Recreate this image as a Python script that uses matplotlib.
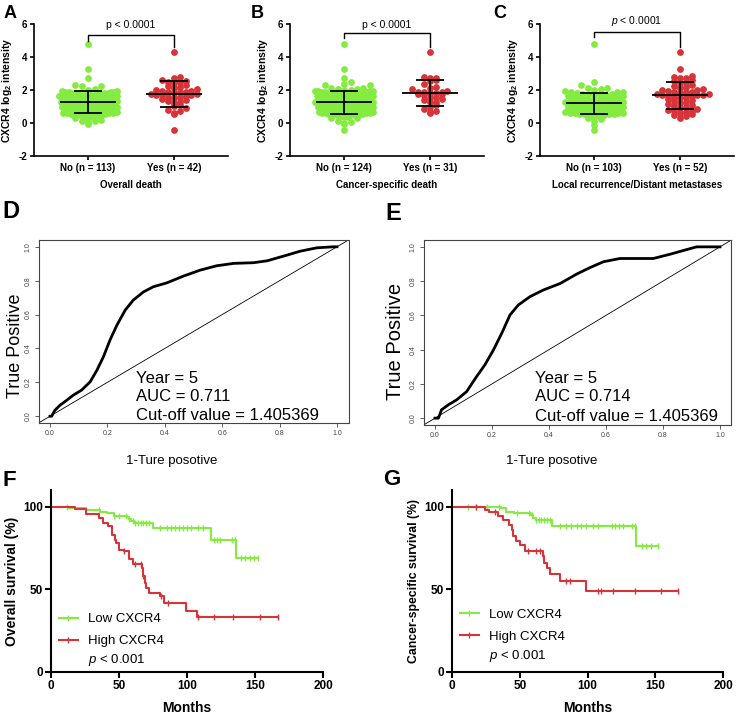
import numpy as np
import matplotlib
matplotlib.use('Agg')
import matplotlib.pyplot as plt
from matplotlib.lines import Line2D

plt.rcParams['font.family'] = ['Liberation Sans', 'DejaVu Sans']
plt.rcParams['mathtext.fontset'] = 'custom'
plt.rcParams['mathtext.rm'] = 'Liberation Sans'
plt.rcParams['mathtext.it'] = 'Liberation Sans:italic'
plt.rcParams['mathtext.bf'] = 'Liberation Sans:bold'
plt.rcParams['axes.unicode_minus'] = False

GREEN = '#84ec40'
RED = '#d63438'

# ---- scatter data (CXCR4 log2 intensity) ----
a_no = [4.80, 3.30, 2.75, 2.28, 2.25, 2.22, 2.05, 2.00,
        1.95, 1.92, 1.90, 1.88, 1.86, 1.84, 1.82, 1.80, 1.78, 1.76, 1.74, 1.72, 1.70, 1.68, 1.66, 1.65, 1.85, 1.75,
        1.62, 1.60, 1.58, 1.56, 1.54, 1.52, 1.50, 1.48, 1.46, 1.44, 1.42, 1.40, 1.38, 1.36, 1.55, 1.45, 1.50, 1.40, 1.60,
        1.33, 1.31, 1.29, 1.27, 1.25, 1.23, 1.21, 1.19, 1.17, 1.15, 1.13, 1.11, 1.09, 1.07, 1.05, 1.20, 1.25, 1.15, 1.30, 1.10,
        1.03, 1.01, 0.99, 0.97, 0.95, 0.93, 0.91, 0.89, 0.87, 0.85, 0.83, 0.81, 0.79, 0.77, 0.90, 0.95, 0.85, 0.80,
        0.73, 0.71, 0.69, 0.67, 0.65, 0.63, 0.61, 0.59, 0.57, 0.55, 0.53, 0.50, 0.48, 0.60,
        0.42, 0.38, 0.36, 0.35, 0.30, 0.20, 0.12, 0.10, 0.05, -0.05,
        1.72, 1.48, 1.18, 0.92, 1.35, 1.05]
a_yes = [4.32, 2.78, 2.75, 2.58, 2.55, 2.50, 2.48, 2.42, 2.30, 2.25, 2.20, 2.10, 2.05, 1.98,
         1.95, 1.92, 1.90, 1.88, 1.85, 1.80, 1.78, 1.75, 1.72, 1.70, 1.68, 1.62, 1.58, 1.55,
         1.50, 1.45, 1.40, 1.35, 1.28, 1.20, 1.10, 1.02, 0.88, 0.80, 0.70, 0.62, 0.55, -0.42]

b_no = [4.80, 3.30, 2.75, 2.50, 2.35, 2.30, 2.28, 2.15, 2.10, 2.08, 2.05, 2.00,
        1.98, 1.96, 1.94, 1.92, 1.90, 1.88, 1.86, 1.84, 1.82, 1.80, 1.78, 1.76, 1.74, 1.72, 1.70, 1.68, 1.66, 1.85, 1.75, 1.95,
        1.64, 1.62, 1.60, 1.58, 1.56, 1.54, 1.52, 1.50, 1.48, 1.46, 1.44, 1.42, 1.40, 1.38, 1.36, 1.34, 1.55, 1.45, 1.50, 1.40, 1.60,
        1.32, 1.30, 1.28, 1.26, 1.24, 1.22, 1.20, 1.18, 1.16, 1.14, 1.12, 1.10, 1.08, 1.06, 1.04, 1.02, 1.25, 1.15, 1.20, 1.10,
        1.00, 0.98, 0.96, 0.94, 0.92, 0.90, 0.88, 0.86, 0.84, 0.82, 0.80, 0.78, 0.76, 0.74, 0.72, 0.95, 0.85, 0.80,
        0.70, 0.68, 0.66, 0.64, 0.62, 0.60, 0.58, 0.56, 0.54, 0.52, 0.50, 0.48, 0.46, 0.60, 0.55, 0.65,
        0.42, 0.38, 0.35, 0.30, 0.28, 0.12, 0.08, 0.02, -0.05, -0.42,
        1.25, 1.05, 0.90, 1.35, 1.65, 0.75, 1.18]
b_yes = [4.32, 2.78, 2.72, 2.70, 2.62, 2.55, 2.35, 2.20, 2.10, 2.05, 1.95, 1.90, 1.88, 1.85, 1.82, 1.80,
         1.78, 1.75, 1.72, 1.60, 1.50, 1.45, 1.40, 1.30, 1.25, 1.10, 0.95, 0.85, 0.72, 0.65, 0.58]

c_no = [4.80, 2.50, 2.30, 2.15, 2.10, 2.05,
        2.00, 1.95, 1.90, 1.88, 1.85, 1.80, 1.78, 1.75, 1.72, 1.70, 1.68,
        1.65, 1.62, 1.60, 1.58, 1.56, 1.54, 1.52, 1.50, 1.48, 1.46, 1.44, 1.42, 1.40, 1.38, 1.36, 1.55, 1.45, 1.50, 1.40,
        1.34, 1.32, 1.30, 1.28, 1.26, 1.24, 1.22, 1.20, 1.18, 1.16, 1.14, 1.12, 1.10, 1.08, 1.06, 1.04, 1.25, 1.15, 1.20, 1.10,
        1.02, 1.00, 0.98, 0.96, 0.94, 0.92, 0.90, 0.88, 0.86, 0.84, 0.82, 0.80, 0.78, 0.76, 0.74, 0.95, 0.85, 0.80,
        0.72, 0.70, 0.68, 0.66, 0.64, 0.62, 0.60, 0.58, 0.56, 0.54, 0.52, 0.50, 0.60, 0.55,
        0.45, 0.40, 0.35, 0.30, 0.25, 0.10, -0.10, -0.42,
        1.70, 1.30, 1.00, 0.70, 1.45, 1.15, 0.90]
c_yes = [4.32, 3.30, 2.85, 2.78, 2.75, 2.70, 2.62, 2.55, 2.45, 2.40, 2.30, 2.22, 2.18, 2.12, 2.08, 2.02,
         1.98, 1.95, 1.90, 1.88, 1.85, 1.82, 1.78, 1.75, 1.72, 1.70, 1.68, 1.65, 1.62, 1.58, 1.55, 1.50,
         1.45, 1.40, 1.35, 1.30, 1.22, 1.15, 1.10, 1.02, 0.95, 0.90, 0.85, 0.80, 0.75, 0.70, 0.65, 0.60,
         0.55, 0.50, 0.40, 0.30]

scatter_xlabels = ['Overall death', 'Cancer-specific death', 'Local recurrence/Distant metastases']
scatter_ptext = ['p < 0.0001', 'p < 0.0001', r'$p$ < 0.0001']

# ---- ROC curves ----
d_fpr = [0.0, 0.006, 0.017, 0.035, 0.058, 0.081, 0.11, 0.14, 0.163, 0.186, 0.209, 0.233, 0.262, 0.29,
         0.326, 0.36, 0.407, 0.465, 0.523, 0.581, 0.64, 0.709, 0.756, 0.814, 0.872, 0.93, 0.988, 1.0]
d_tpr = [0.0, 0.0, 0.035, 0.065, 0.094, 0.124, 0.154, 0.203, 0.27, 0.35, 0.449, 0.537, 0.626, 0.685,
         0.734, 0.764, 0.787, 0.827, 0.862, 0.888, 0.902, 0.906, 0.917, 0.945, 0.974, 0.994, 1.0, 1.0]
e_fpr = [0.0, 0.012, 0.023, 0.047, 0.076, 0.111, 0.146, 0.175, 0.205, 0.234, 0.263, 0.292, 0.333, 0.38,
         0.439, 0.497, 0.544, 0.591, 0.649, 0.708, 0.766, 0.825, 0.883, 0.918, 1.0]
e_tpr = [0.0, 0.0, 0.049, 0.078, 0.107, 0.155, 0.243, 0.311, 0.398, 0.495, 0.602, 0.66, 0.709, 0.748,
         0.786, 0.841, 0.879, 0.913, 0.932, 0.932, 0.932, 0.957, 0.984, 1.0, 1.0]
d_text = ['Year = 5', 'AUC = 0.711', 'Cut-off value = 1.405369']
e_text = ['Year = 5', 'AUC = 0.714', 'Cut-off value = 1.405369']

# ---- Kaplan-Meier curves ----
f_low_t = [0, 13, 26, 36, 41, 46, 56, 57, 59, 61, 75, 118, 136, 152]
f_low_s = [100, 99, 98, 97, 96, 94.5, 93.5, 92.5, 91.5, 90, 87, 80, 69, 69]
f_low_c = [12, 35, 46, 50, 55, 57, 60, 62, 64, 66, 68, 70, 72, 80, 85, 88, 91, 94, 97, 100, 103, 108,
           112, 120, 122, 124, 133, 135, 140, 143, 146, 149, 152]
f_high_t = [0, 18, 26, 35, 38, 42, 45, 47, 48, 50, 54, 57, 60, 67, 68, 69, 70, 72, 80, 83, 99, 107, 167]
f_high_s = [100, 98.5, 95.5, 93, 90, 88, 83, 80, 78, 74, 73, 68, 65, 63, 58, 54, 51, 48, 46, 42, 37, 33, 33]
f_high_c = [54, 62, 66, 68, 81, 86, 108, 120, 134, 154, 167]

g_low_t = [0, 36, 40, 46, 58, 60, 62, 74, 136, 152]
g_low_s = [100, 99, 97, 96, 95, 93, 92, 88, 76, 76]
g_low_c = [12, 18, 26, 35, 48, 57, 59, 62, 64, 66, 68, 70, 72, 80, 84, 88, 92, 95, 99, 104, 108,
           118, 120, 123, 126, 133, 135, 140, 143, 147, 152]
g_high_t = [0, 24, 27, 34, 38, 42, 44, 45, 47, 50, 54, 67, 68, 70, 72, 80, 99, 167]
g_high_s = [100, 98, 96.5, 94, 92, 89, 86, 82, 79, 76.5, 73, 70, 66, 63, 59, 55, 49, 49]
g_high_c = [18, 32, 56, 62, 65, 67, 84, 87, 108, 110, 119, 135, 154, 167]

W, H = 738, 716
fig = plt.figure(figsize=(W / 100, H / 100), dpi=100)


def px_axes(l, t, r, b):
    return fig.add_axes([l / W, 1 - b / H, (r - l) / W, (b - t) / H])


def swarm_x(vals, center, bin_w, step, max_half=0.34):
    # Prism-like rows: inside each bin the lowest value sits in the middle,
    # higher values alternate outwards, which gives the chevron look
    vals = np.asarray(vals, dtype=float)
    xs = np.full(len(vals), float(center))
    bins = np.floor(vals / bin_w)
    for b in np.unique(bins):
        idx = np.where(bins == b)[0]
        order = idx[np.argsort(vals[idx])]
        n = len(order)
        d = min(step, max_half / max(1, n // 2))
        for k, i in enumerate(order):
            m = (k + 1) // 2
            xs[i] = center + (m * d if k % 2 else -m * d)
    return xs


def draw_scatter(ax, no_vals, yes_vals, xlabel, ptext, bracket):
    for c, vals, col, bw, st in [(0, no_vals, GREEN, 0.33, 0.075), (1, yes_vals, RED, 0.3, 0.068)]:
        ax.scatter(swarm_x(vals, c, bw, st), vals, s=24, color=col, lw=0, zorder=2)
        m, sd = np.mean(vals), np.std(vals, ddof=1)
        ax.hlines(m, c - 0.33, c + 0.33, color='k', lw=1.3, zorder=3)
        ax.hlines([m - sd, m + sd], c - 0.16, c + 0.16, color='k', lw=1.3, zorder=3)
        ax.vlines(c, m - sd, m + sd, color='k', lw=1.3, zorder=3)
    top, lb, rb, ty = bracket
    ax.plot([0, 0, 1, 1], [lb, top, top, rb], color='k', lw=1)
    ax.text(0.5, ty, ptext, ha='center', va='center', fontsize=7.5)
    ax.set_xlim(-0.63, 1.63)
    ax.set_ylim(-2, 6)
    ax.set_yticks([-2, 0, 2, 4, 6])
    ax.set_xticks([0, 1])
    ax.set_xticklabels([f'No (n = {len(no_vals)})', f'Yes (n = {len(yes_vals)})'])
    for s in ['top', 'right']:
        ax.spines[s].set_visible(False)
    for s in ['left', 'bottom']:
        ax.spines[s].set_linewidth(1.2)
    ax.tick_params(length=3, width=1.2, labelsize=7, pad=2)
    for lab in ax.get_xticklabels() + ax.get_yticklabels():
        lab.set_fontweight('bold')
    ax.set_ylabel(r'CXCR4 log$_\mathbf{2}$ intensity', fontsize=7.5, fontweight='bold', labelpad=3)
    ax.set_xlabel(xlabel, fontsize=7, fontweight='bold', labelpad=5)


def draw_roc(ax, fpr, tpr, lines, tx, ty, xlab_pos, ylab_pos, ylab_size):
    ax.plot(fpr, tpr, color='k', lw=2)
    ax.plot([-0.04, 1.04], [-0.04, 1.04], color='k', lw=0.6)
    ax.set_xlim(-0.04, 1.04)
    ax.set_ylim(-0.04, 1.04)
    ticks = np.arange(0, 1.01, 0.2)
    ax.set_xticks(ticks)
    ax.set_yticks(ticks)
    ax.set_xticklabels([f'{t:.1f}' for t in ticks])
    ax.set_yticklabels([f'{t:.1f}' for t in ticks], rotation=90, va='center')
    ax.tick_params(length=3, width=0.6, labelsize=5, colors='#444444', pad=2)
    for s in ax.spines.values():
        s.set_linewidth(0.8)
        s.set_color('#444444')
    for line, y in zip(lines, ty):
        ax.text(tx, y, line, fontsize=12, va='center', ha='left')
    ax.set_ylabel('True Positive', fontsize=ylab_size)
    ax.yaxis.set_label_coords(*ylab_pos)
    ax.set_xlabel('1-Ture posotive', fontsize=9.5)
    ax.xaxis.set_label_coords(*xlab_pos)


def step_value(t, s, c):
    idx = np.searchsorted(t, c, side='right') - 1
    return np.asarray(s)[idx]


def draw_km(ax, low, high, ylabel, ylab_size, leg_anchor, p_xy):
    for (t, s, c), col in [(low, GREEN), (high, RED)]:
        ax.step(t, s, where='post', color=col, lw=1.5)
        ax.plot(c, step_value(t, s, c), ls='none', marker='|', color=col, ms=5, mew=1)
    handles = [Line2D([], [], color=GREEN, lw=1.5, marker='|', ms=5, mew=1),
               Line2D([], [], color=RED, lw=1.5, marker='|', ms=5, mew=1)]
    ax.legend(handles, ['Low CXCR4', 'High CXCR4'], loc='lower left', bbox_to_anchor=leg_anchor,
              frameon=False, fontsize=9.5, handlelength=1.4, handletextpad=0.8, labelspacing=0.75,
              borderpad=0, borderaxespad=0, numpoints=1)
    ax.text(p_xy[0], p_xy[1], r'$p$ < 0.001', transform=ax.transAxes, fontsize=9.5, va='center')
    ax.set_xlim(0, 200)
    ax.set_ylim(0, 110)
    ax.set_xticks([0, 50, 100, 150, 200])
    ax.set_yticks([0, 50, 100])
    for s in ['top', 'right']:
        ax.spines[s].set_visible(False)
    for s in ['left', 'bottom']:
        ax.spines[s].set_linewidth(1.5)
    ax.tick_params(length=4, width=1.5, labelsize=8.5, pad=2)
    for lab in ax.get_xticklabels() + ax.get_yticklabels():
        lab.set_fontweight('bold')
    ax.set_xlabel('Months', fontsize=10, fontweight='bold', labelpad=6)
    ax.set_ylabel(ylabel, fontsize=ylab_size, fontweight='bold', labelpad=3)


# ---- top row: scatter ----
ax_a = px_axes(34, 24, 228, 156)
draw_scatter(ax_a, a_no, a_yes, scatter_xlabels[0], scatter_ptext[0], (5.33, 5.0, 4.6, 5.94))
ax_b = px_axes(290, 24, 484, 156)
draw_scatter(ax_b, b_no, b_yes, scatter_xlabels[1], scatter_ptext[1], (5.43, 5.13, 4.63, 5.94))
ax_c = px_axes(540, 24, 734, 156)
draw_scatter(ax_c, c_no, c_yes, scatter_xlabels[2], scatter_ptext[2], (5.53, 5.19, 4.62, 6.2))

# ---- middle row: ROC ----
ax_d = px_axes(38.5, 240, 348.5, 423)
draw_roc(ax_d, d_fpr, d_tpr, d_text, 0.30, [0.223, 0.114, 0.006], (0.43, -0.175), (-0.047, 0.42), 13)
ax_e = px_axes(423.6, 240, 731.4, 425)
draw_roc(ax_e, e_fpr, e_tpr, e_text, 0.351, [0.233, 0.126, 0.009], (0.417, -0.162), (-0.06, 0.45), 14.5)

# ---- bottom row: Kaplan-Meier ----
ax_f = px_axes(51, 490, 323, 672)
draw_km(ax_f, (f_low_t, f_low_s, f_low_c), (f_high_t, f_high_s, f_high_c),
        'Overall survival (%)', 10, (0.03, 0.135), (0.135, 0.066))
ax_g = px_axes(452, 490, 723, 672)
draw_km(ax_g, (g_low_t, g_low_s, g_low_c), (g_high_t, g_high_s, g_high_c),
        'Cancer-specific survival (%)', 8.8, (0.03, 0.16), (0.135, 0.09))

# ---- panel letters ----
for letter, x, y, size in [('A', 4, 5, 13), ('B', 251, 5, 13), ('C', 493, 5, 13),
                           ('D', 2, 200, 17), ('E', 385, 202, 17),
                           ('F', 3, 470, 16), ('G', 383, 469, 16)]:
    fig.text(x / W, 1 - y / H, letter, fontsize=size, fontweight='bold', va='top', ha='left')

fig.savefig('out.png', dpi=100)
